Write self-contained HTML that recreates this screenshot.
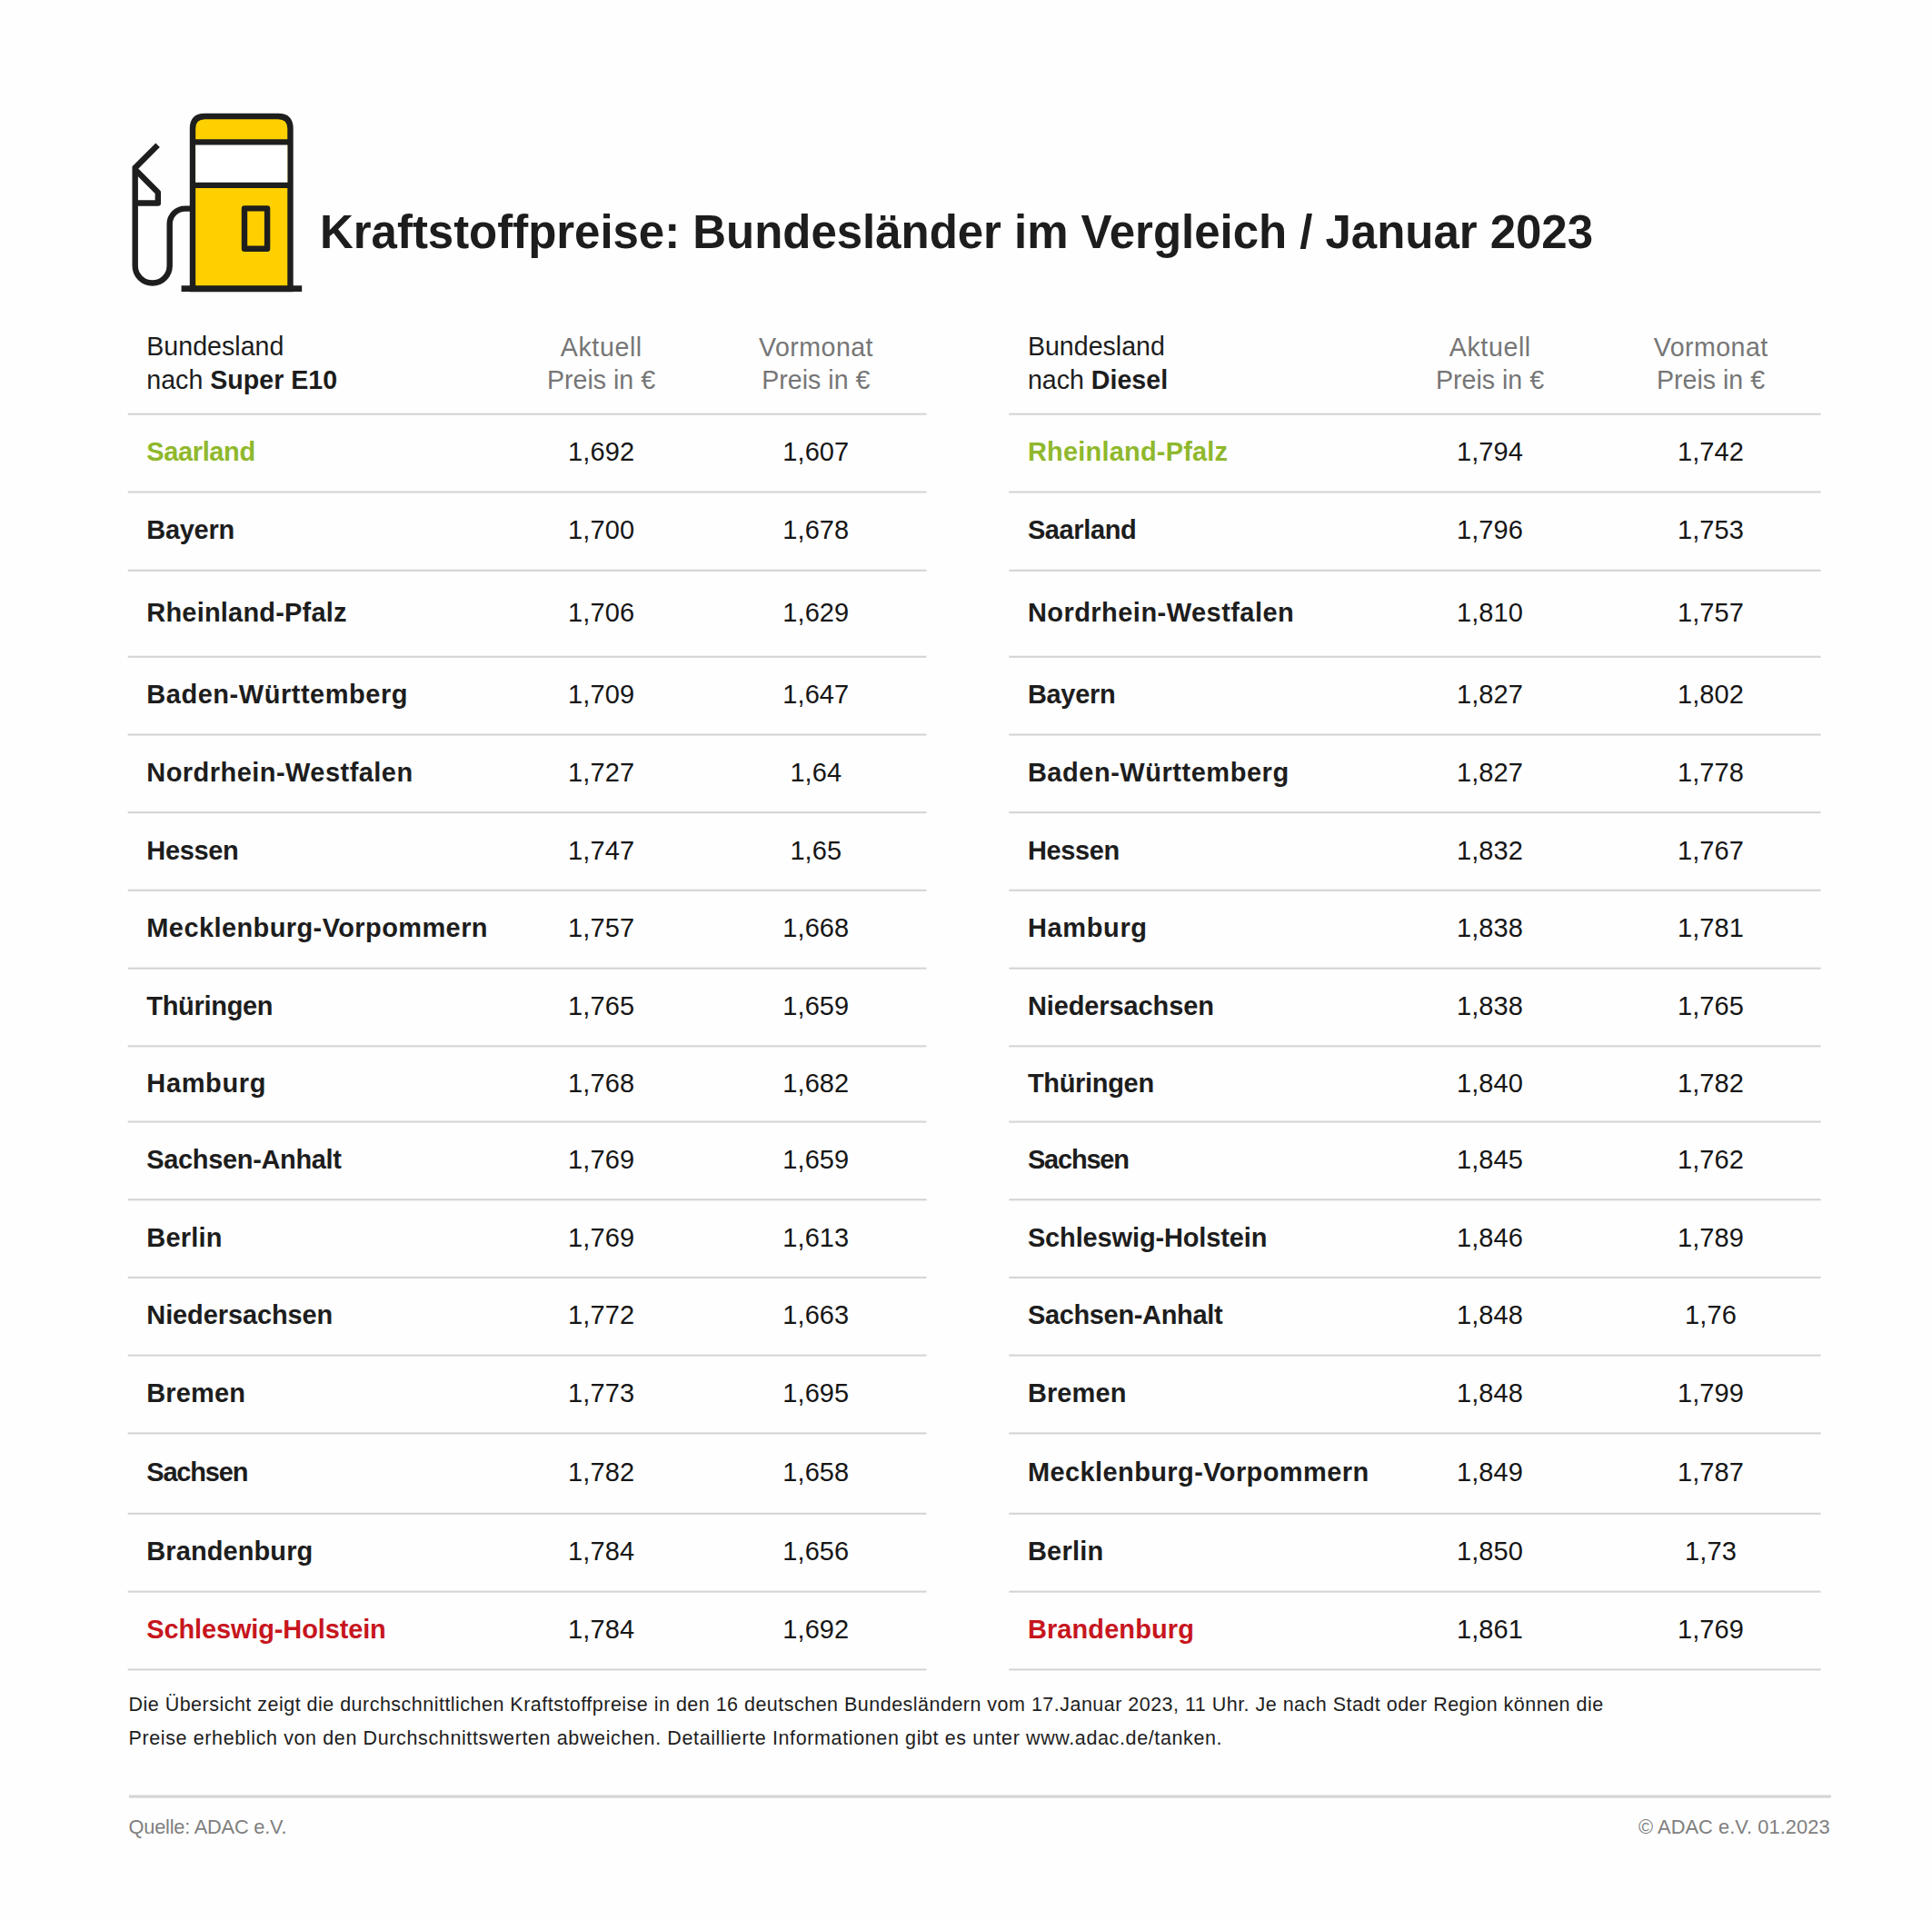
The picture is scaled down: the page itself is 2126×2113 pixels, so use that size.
<!DOCTYPE html>
<html><head><meta charset="utf-8"><title>Kraftstoffpreise</title>
<style>
html,body{margin:0;padding:0;background:#fefefe}
body{width:2126px;height:2113px;position:relative;overflow:hidden;font-family:"Liberation Sans",sans-serif;color:#1d1d1d}
div{position:absolute;white-space:nowrap;line-height:1}
.icon{position:absolute;left:0;top:0}
.title{font-weight:bold;color:#1d1d1d;letter-spacing:-0.035px}
.hd{color:#1d1d1d}
.hd b{font-weight:bold}
.hg{color:#767676}
.c{text-align:center}
.nm{font-weight:bold;color:#1d1d1d}
.nm.g{color:#8fb82c}
.nm.r{color:#c7161e}
.nu{color:#161616}
.ln{height:2px;background:#d4d4d4}
.ln2{height:3px;background:#d6d6d6}
.ft{color:#1d1d1d}
.q{color:#7f7f7f}
</style></head><body>
<svg class="icon" width="2126" height="400" viewBox="0 0 2126 400">
<g fill="none" stroke="#1e1e1e" stroke-width="6.4">
<path d="M212 318 L212 141.5 Q212 128 225.5 128 L306 128 Q319.5 128 319.5 141.5 L319.5 318 Z" fill="#ffd000"/>
<rect x="215.2" y="156.4" width="101.1" height="47.5" fill="#ffffff" stroke="none"/>
<path d="M212 156.4 H319.5 M212 203.9 H319.5"/>
<rect x="269" y="229.4" width="25.1" height="44.3" fill="#ffd000" stroke-linejoin="round"/>
<path d="M199.6 317.7 H332.2" stroke-width="6.8"/>
<path d="M173.6 159.8 L148.7 184.7 L148.7 292.5 A19 19 0 0 0 186.7 292.5 L186.7 246.6 A17 17 0 0 1 203.7 229.6 L210 229.6" stroke-linejoin="miter"/>
<path d="M148.7 186.5 L173.85 211.65 L173.85 223.5 L148.7 223.5" stroke-linejoin="round"/>
</g></svg>
<svg class="icon" width="2126" height="2113" viewBox="0 0 2126 2113"><g fill="#d4d4d4">
<rect x="140.7" y="454.65" width="878.8" height="2.1"/>
<rect x="140.7" y="540.45" width="878.8" height="2.1"/>
<rect x="140.7" y="626.75" width="878.8" height="2.1"/>
<rect x="140.7" y="721.75" width="878.8" height="2.1"/>
<rect x="140.7" y="807.45" width="878.8" height="2.1"/>
<rect x="140.7" y="893.05" width="878.8" height="2.1"/>
<rect x="140.7" y="978.75" width="878.8" height="2.1"/>
<rect x="140.7" y="1064.65" width="878.8" height="2.1"/>
<rect x="140.7" y="1150.30" width="878.8" height="2.1"/>
<rect x="140.7" y="1233.51" width="878.8" height="2.1"/>
<rect x="140.7" y="1319.20" width="878.8" height="2.1"/>
<rect x="140.7" y="1404.85" width="878.8" height="2.1"/>
<rect x="140.7" y="1490.55" width="878.8" height="2.1"/>
<rect x="140.7" y="1576.35" width="878.8" height="2.1"/>
<rect x="140.7" y="1664.75" width="878.8" height="2.1"/>
<rect x="140.7" y="1750.55" width="878.8" height="2.1"/>
<rect x="140.7" y="1836.35" width="878.8" height="2.1"/>
<rect x="1110.3" y="454.65" width="893.3" height="2.1"/>
<rect x="1110.3" y="540.45" width="893.3" height="2.1"/>
<rect x="1110.3" y="626.75" width="893.3" height="2.1"/>
<rect x="1110.3" y="721.75" width="893.3" height="2.1"/>
<rect x="1110.3" y="807.45" width="893.3" height="2.1"/>
<rect x="1110.3" y="893.05" width="893.3" height="2.1"/>
<rect x="1110.3" y="978.75" width="893.3" height="2.1"/>
<rect x="1110.3" y="1064.65" width="893.3" height="2.1"/>
<rect x="1110.3" y="1150.30" width="893.3" height="2.1"/>
<rect x="1110.3" y="1233.51" width="893.3" height="2.1"/>
<rect x="1110.3" y="1319.20" width="893.3" height="2.1"/>
<rect x="1110.3" y="1404.85" width="893.3" height="2.1"/>
<rect x="1110.3" y="1490.55" width="893.3" height="2.1"/>
<rect x="1110.3" y="1576.35" width="893.3" height="2.1"/>
<rect x="1110.3" y="1664.75" width="893.3" height="2.1"/>
<rect x="1110.3" y="1750.55" width="893.3" height="2.1"/>
<rect x="1110.3" y="1836.35" width="893.3" height="2.1"/>
<rect x="142" y="1975.55" width="1872.9" height="3.1"/>
</g></svg>
<div class="title" style="left:352.0px;top:230.00px;font-size:51px">Kraftstoffpreise: Bundesländer im Vergleich / Januar 2023</div>
<div class="hd" style="left:161.3px;top:367.00px;font-size:28.6px">Bundesland</div>
<div class="hd" style="left:161.3px;top:404.00px;font-size:28.6px">nach <b>Super E10</b></div>
<div class="hg c" style="left:461.8px;width:400px;top:368.00px;font-size:28.6px;letter-spacing:0.600px">Aktuell</div>
<div class="hg c" style="left:461.5px;width:400px;top:404.00px;font-size:28.6px">Preis in €</div>
<div class="hg c" style="left:698.0px;width:400px;top:368.00px;font-size:28.6px;letter-spacing:0.450px">Vormonat</div>
<div class="hg c" style="left:697.8px;width:400px;top:404.00px;font-size:28.6px">Preis in €</div>
<div class="nm g" style="left:161.3px;top:483.00px;font-size:29px;letter-spacing:-0.386px">Saarland</div>
<div class="nu c" style="left:461.6px;width:400px;top:483.00px;font-size:29px;letter-spacing:0.100px">1,692</div>
<div class="nu c" style="left:697.8px;width:400px;top:483.00px;font-size:29px;letter-spacing:0.100px">1,607</div>
<div class="nm" style="left:161.3px;top:569.00px;font-size:29px;letter-spacing:-0.300px">Bayern</div>
<div class="nu c" style="left:461.6px;width:400px;top:569.00px;font-size:29px;letter-spacing:0.100px">1,700</div>
<div class="nu c" style="left:697.8px;width:400px;top:569.00px;font-size:29px;letter-spacing:0.100px">1,678</div>
<div class="nm" style="left:161.3px;top:660.00px;font-size:29px;letter-spacing:0.193px">Rheinland-Pfalz</div>
<div class="nu c" style="left:461.6px;width:400px;top:660.00px;font-size:29px;letter-spacing:0.100px">1,706</div>
<div class="nu c" style="left:697.8px;width:400px;top:660.00px;font-size:29px;letter-spacing:0.100px">1,629</div>
<div class="nm" style="left:161.3px;top:750.00px;font-size:29px;letter-spacing:0.531px">Baden-Württemberg</div>
<div class="nu c" style="left:461.6px;width:400px;top:750.00px;font-size:29px;letter-spacing:0.100px">1,709</div>
<div class="nu c" style="left:697.8px;width:400px;top:750.00px;font-size:29px;letter-spacing:0.100px">1,647</div>
<div class="nm" style="left:161.3px;top:836.00px;font-size:29px;letter-spacing:0.456px">Nordrhein-Westfalen</div>
<div class="nu c" style="left:461.6px;width:400px;top:836.00px;font-size:29px;letter-spacing:0.100px">1,727</div>
<div class="nu c" style="left:697.8px;width:400px;top:836.00px;font-size:29px;letter-spacing:0.100px">1,64</div>
<div class="nm" style="left:161.3px;top:922.00px;font-size:29px;letter-spacing:-0.360px">Hessen</div>
<div class="nu c" style="left:461.6px;width:400px;top:922.00px;font-size:29px;letter-spacing:0.100px">1,747</div>
<div class="nu c" style="left:697.8px;width:400px;top:922.00px;font-size:29px;letter-spacing:0.100px">1,65</div>
<div class="nm" style="left:161.3px;top:1007.00px;font-size:29px;letter-spacing:0.400px">Mecklenburg-Vorpommern</div>
<div class="nu c" style="left:461.6px;width:400px;top:1007.00px;font-size:29px;letter-spacing:0.100px">1,757</div>
<div class="nu c" style="left:697.8px;width:400px;top:1007.00px;font-size:29px;letter-spacing:0.100px">1,668</div>
<div class="nm" style="left:161.3px;top:1093.00px;font-size:29px;letter-spacing:-0.312px">Thüringen</div>
<div class="nu c" style="left:461.6px;width:400px;top:1093.00px;font-size:29px;letter-spacing:0.100px">1,765</div>
<div class="nu c" style="left:697.8px;width:400px;top:1093.00px;font-size:29px;letter-spacing:0.100px">1,659</div>
<div class="nm" style="left:161.3px;top:1178.00px;font-size:29px;letter-spacing:0.650px">Hamburg</div>
<div class="nu c" style="left:461.6px;width:400px;top:1178.00px;font-size:29px;letter-spacing:0.100px">1,768</div>
<div class="nu c" style="left:697.8px;width:400px;top:1178.00px;font-size:29px;letter-spacing:0.100px">1,682</div>
<div class="nm" style="left:161.3px;top:1262.00px;font-size:29px;letter-spacing:-0.346px">Sachsen-Anhalt</div>
<div class="nu c" style="left:461.6px;width:400px;top:1262.00px;font-size:29px;letter-spacing:0.100px">1,769</div>
<div class="nu c" style="left:697.8px;width:400px;top:1262.00px;font-size:29px;letter-spacing:0.100px">1,659</div>
<div class="nm" style="left:161.3px;top:1348.00px;font-size:29px;letter-spacing:0.220px">Berlin</div>
<div class="nu c" style="left:461.6px;width:400px;top:1348.00px;font-size:29px;letter-spacing:0.100px">1,769</div>
<div class="nu c" style="left:697.8px;width:400px;top:1348.00px;font-size:29px;letter-spacing:0.100px">1,613</div>
<div class="nm" style="left:161.3px;top:1433.00px;font-size:29px;letter-spacing:-0.108px">Niedersachsen</div>
<div class="nu c" style="left:461.6px;width:400px;top:1433.00px;font-size:29px;letter-spacing:0.100px">1,772</div>
<div class="nu c" style="left:697.8px;width:400px;top:1433.00px;font-size:29px;letter-spacing:0.100px">1,663</div>
<div class="nm" style="left:161.3px;top:1519.00px;font-size:29px;letter-spacing:0.120px">Bremen</div>
<div class="nu c" style="left:461.6px;width:400px;top:1519.00px;font-size:29px;letter-spacing:0.100px">1,773</div>
<div class="nu c" style="left:697.8px;width:400px;top:1519.00px;font-size:29px;letter-spacing:0.100px">1,695</div>
<div class="nm" style="left:161.3px;top:1606.00px;font-size:29px;letter-spacing:-1.200px">Sachsen</div>
<div class="nu c" style="left:461.6px;width:400px;top:1606.00px;font-size:29px;letter-spacing:0.100px">1,782</div>
<div class="nu c" style="left:697.8px;width:400px;top:1606.00px;font-size:29px;letter-spacing:0.100px">1,658</div>
<div class="nm" style="left:161.3px;top:1693.00px;font-size:29px;letter-spacing:0.090px">Brandenburg</div>
<div class="nu c" style="left:461.6px;width:400px;top:1693.00px;font-size:29px;letter-spacing:0.100px">1,784</div>
<div class="nu c" style="left:697.8px;width:400px;top:1693.00px;font-size:29px;letter-spacing:0.100px">1,656</div>
<div class="nm r" style="left:161.3px;top:1779.00px;font-size:29px;letter-spacing:-0.141px">Schleswig-Holstein</div>
<div class="nu c" style="left:461.6px;width:400px;top:1779.00px;font-size:29px;letter-spacing:0.100px">1,784</div>
<div class="nu c" style="left:697.8px;width:400px;top:1779.00px;font-size:29px;letter-spacing:0.100px">1,692</div>
<div class="hd" style="left:1130.9px;top:367.00px;font-size:28.6px">Bundesland</div>
<div class="hd" style="left:1130.9px;top:404.00px;font-size:28.6px">nach <b>Diesel</b></div>
<div class="hg c" style="left:1439.8px;width:400px;top:368.00px;font-size:28.6px;letter-spacing:0.600px">Aktuell</div>
<div class="hg c" style="left:1439.5px;width:400px;top:404.00px;font-size:28.6px">Preis in €</div>
<div class="hg c" style="left:1682.7px;width:400px;top:368.00px;font-size:28.6px;letter-spacing:0.450px">Vormonat</div>
<div class="hg c" style="left:1682.5px;width:400px;top:404.00px;font-size:28.6px">Preis in €</div>
<div class="nm g" style="left:1130.9px;top:483.00px;font-size:29px;letter-spacing:0.193px">Rheinland-Pfalz</div>
<div class="nu c" style="left:1439.5px;width:400px;top:483.00px;font-size:29px;letter-spacing:0.100px">1,794</div>
<div class="nu c" style="left:1682.5px;width:400px;top:483.00px;font-size:29px;letter-spacing:0.100px">1,742</div>
<div class="nm" style="left:1130.9px;top:569.00px;font-size:29px;letter-spacing:-0.386px">Saarland</div>
<div class="nu c" style="left:1439.5px;width:400px;top:569.00px;font-size:29px;letter-spacing:0.100px">1,796</div>
<div class="nu c" style="left:1682.5px;width:400px;top:569.00px;font-size:29px;letter-spacing:0.100px">1,753</div>
<div class="nm" style="left:1130.9px;top:660.00px;font-size:29px;letter-spacing:0.456px">Nordrhein-Westfalen</div>
<div class="nu c" style="left:1439.5px;width:400px;top:660.00px;font-size:29px;letter-spacing:0.100px">1,810</div>
<div class="nu c" style="left:1682.5px;width:400px;top:660.00px;font-size:29px;letter-spacing:0.100px">1,757</div>
<div class="nm" style="left:1130.9px;top:750.00px;font-size:29px;letter-spacing:-0.300px">Bayern</div>
<div class="nu c" style="left:1439.5px;width:400px;top:750.00px;font-size:29px;letter-spacing:0.100px">1,827</div>
<div class="nu c" style="left:1682.5px;width:400px;top:750.00px;font-size:29px;letter-spacing:0.100px">1,802</div>
<div class="nm" style="left:1130.9px;top:836.00px;font-size:29px;letter-spacing:0.531px">Baden-Württemberg</div>
<div class="nu c" style="left:1439.5px;width:400px;top:836.00px;font-size:29px;letter-spacing:0.100px">1,827</div>
<div class="nu c" style="left:1682.5px;width:400px;top:836.00px;font-size:29px;letter-spacing:0.100px">1,778</div>
<div class="nm" style="left:1130.9px;top:922.00px;font-size:29px;letter-spacing:-0.360px">Hessen</div>
<div class="nu c" style="left:1439.5px;width:400px;top:922.00px;font-size:29px;letter-spacing:0.100px">1,832</div>
<div class="nu c" style="left:1682.5px;width:400px;top:922.00px;font-size:29px;letter-spacing:0.100px">1,767</div>
<div class="nm" style="left:1130.9px;top:1007.00px;font-size:29px;letter-spacing:0.650px">Hamburg</div>
<div class="nu c" style="left:1439.5px;width:400px;top:1007.00px;font-size:29px;letter-spacing:0.100px">1,838</div>
<div class="nu c" style="left:1682.5px;width:400px;top:1007.00px;font-size:29px;letter-spacing:0.100px">1,781</div>
<div class="nm" style="left:1130.9px;top:1093.00px;font-size:29px;letter-spacing:-0.108px">Niedersachsen</div>
<div class="nu c" style="left:1439.5px;width:400px;top:1093.00px;font-size:29px;letter-spacing:0.100px">1,838</div>
<div class="nu c" style="left:1682.5px;width:400px;top:1093.00px;font-size:29px;letter-spacing:0.100px">1,765</div>
<div class="nm" style="left:1130.9px;top:1178.00px;font-size:29px;letter-spacing:-0.312px">Thüringen</div>
<div class="nu c" style="left:1439.5px;width:400px;top:1178.00px;font-size:29px;letter-spacing:0.100px">1,840</div>
<div class="nu c" style="left:1682.5px;width:400px;top:1178.00px;font-size:29px;letter-spacing:0.100px">1,782</div>
<div class="nm" style="left:1130.9px;top:1262.00px;font-size:29px;letter-spacing:-1.200px">Sachsen</div>
<div class="nu c" style="left:1439.5px;width:400px;top:1262.00px;font-size:29px;letter-spacing:0.100px">1,845</div>
<div class="nu c" style="left:1682.5px;width:400px;top:1262.00px;font-size:29px;letter-spacing:0.100px">1,762</div>
<div class="nm" style="left:1130.9px;top:1348.00px;font-size:29px;letter-spacing:-0.141px">Schleswig-Holstein</div>
<div class="nu c" style="left:1439.5px;width:400px;top:1348.00px;font-size:29px;letter-spacing:0.100px">1,846</div>
<div class="nu c" style="left:1682.5px;width:400px;top:1348.00px;font-size:29px;letter-spacing:0.100px">1,789</div>
<div class="nm" style="left:1130.9px;top:1433.00px;font-size:29px;letter-spacing:-0.346px">Sachsen-Anhalt</div>
<div class="nu c" style="left:1439.5px;width:400px;top:1433.00px;font-size:29px;letter-spacing:0.100px">1,848</div>
<div class="nu c" style="left:1682.5px;width:400px;top:1433.00px;font-size:29px;letter-spacing:0.100px">1,76</div>
<div class="nm" style="left:1130.9px;top:1519.00px;font-size:29px;letter-spacing:0.120px">Bremen</div>
<div class="nu c" style="left:1439.5px;width:400px;top:1519.00px;font-size:29px;letter-spacing:0.100px">1,848</div>
<div class="nu c" style="left:1682.5px;width:400px;top:1519.00px;font-size:29px;letter-spacing:0.100px">1,799</div>
<div class="nm" style="left:1130.9px;top:1606.00px;font-size:29px;letter-spacing:0.400px">Mecklenburg-Vorpommern</div>
<div class="nu c" style="left:1439.5px;width:400px;top:1606.00px;font-size:29px;letter-spacing:0.100px">1,849</div>
<div class="nu c" style="left:1682.5px;width:400px;top:1606.00px;font-size:29px;letter-spacing:0.100px">1,787</div>
<div class="nm" style="left:1130.9px;top:1693.00px;font-size:29px;letter-spacing:0.220px">Berlin</div>
<div class="nu c" style="left:1439.5px;width:400px;top:1693.00px;font-size:29px;letter-spacing:0.100px">1,850</div>
<div class="nu c" style="left:1682.5px;width:400px;top:1693.00px;font-size:29px;letter-spacing:0.100px">1,73</div>
<div class="nm r" style="left:1130.9px;top:1779.00px;font-size:29px;letter-spacing:0.090px">Brandenburg</div>
<div class="nu c" style="left:1439.5px;width:400px;top:1779.00px;font-size:29px;letter-spacing:0.100px">1,861</div>
<div class="nu c" style="left:1682.5px;width:400px;top:1779.00px;font-size:29px;letter-spacing:0.100px">1,769</div>
<div class="ft" style="left:141.5px;top:1866.00px;font-size:21.5px;letter-spacing:0.482px">Die Übersicht zeigt die durchschnittlichen Kraftstoffpreise in den 16 deutschen Bundesländern vom 17.Januar 2023, 11 Uhr. Je nach Stadt oder Region können die</div>
<div class="ft" style="left:141.5px;top:1903.00px;font-size:21.5px;letter-spacing:0.620px">Preise erheblich von den Durchschnittswerten abweichen. Detaillierte Informationen gibt es unter www.adac.de/tanken.</div>
<div class="q" style="left:141.5px;top:2000.00px;font-size:21.8px;letter-spacing:-0.210px">Quelle: ADAC e.V.</div>
<div class="q" style="right:112.4px;top:2000.00px;font-size:21.8px;letter-spacing:0.08px">© ADAC e.V. 01.2023</div>
</body></html>
